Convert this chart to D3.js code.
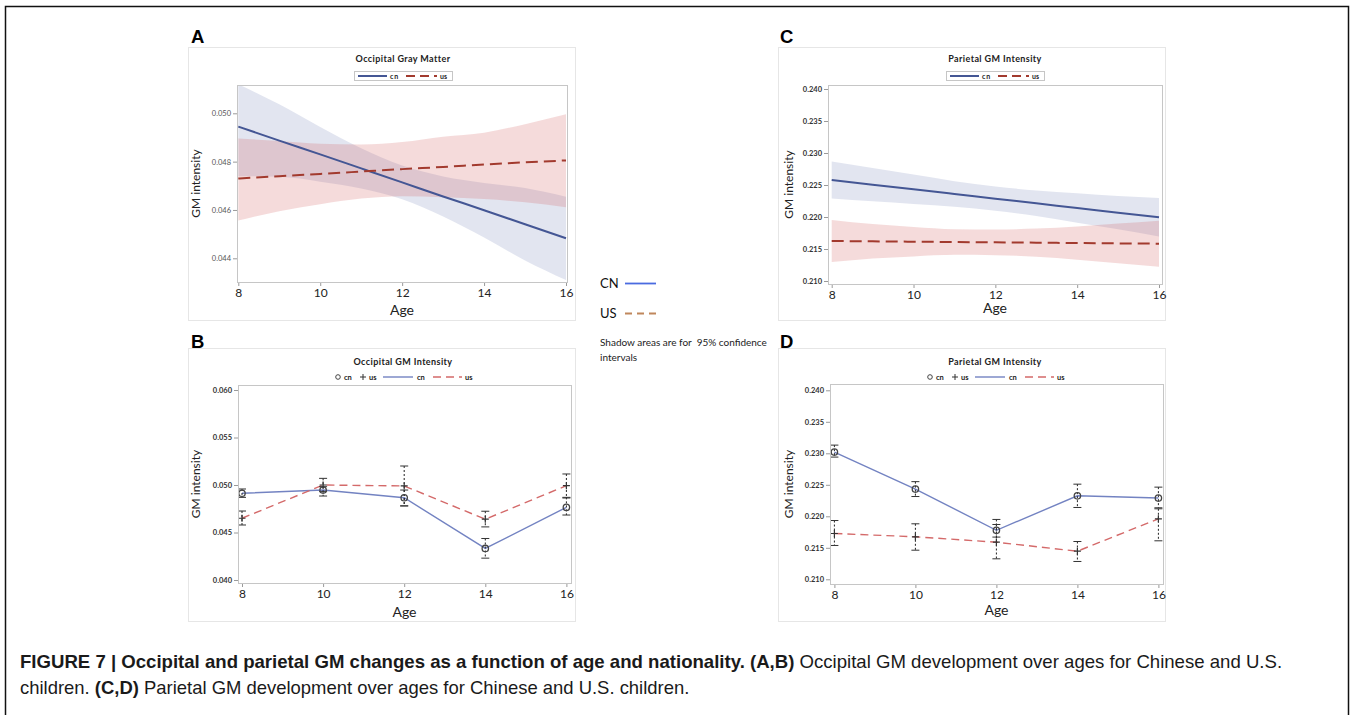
<!DOCTYPE html>
<html><head><meta charset="utf-8">
<script src="https://cdn.jsdelivr.net/npm/d3@7"></script>
<style>body{margin:0;background:#fff}svg{display:block}</style>
</head><body>
<svg id="c" width="1354" height="715"></svg>
<script>
// ---------- DATA ----------
const xTicks = [8, 10, 12, 14, 16];
const fitAges = [8, 9, 10, 11, 12, 13, 14, 15, 16];
const ages = [8, 10, 12, 14, 16];
const yTicksA = [0.044, 0.046, 0.048, 0.050];
const yTicksB = [0.040, 0.045, 0.050, 0.055, 0.060];
const yTicksCD = [0.210, 0.215, 0.220, 0.225, 0.230, 0.235, 0.240];

// Panel A: Occipital Gray Matter (fit + 95% CI)
const cnA   = [0.04945, 0.04887, 0.04830, 0.04772, 0.04714, 0.04656, 0.04599, 0.04541, 0.04483];
const cnAlo = [0.04740, 0.04737, 0.04717, 0.04689, 0.04644, 0.04573, 0.04486, 0.04391, 0.04310];
const cnAhi = [0.05120, 0.05037, 0.04943, 0.04855, 0.04784, 0.04739, 0.04712, 0.04691, 0.04655];
const usA   = [0.04730, 0.04740, 0.04749, 0.04759, 0.04769, 0.04778, 0.04788, 0.04797, 0.04805];
const usAlo = [0.04556, 0.04595, 0.04624, 0.04647, 0.04657, 0.04653, 0.04645, 0.04632, 0.04611];
const usAhi = [0.04896, 0.04885, 0.04874, 0.04871, 0.04881, 0.04903, 0.04920, 0.04955, 0.04996];

// Panel C: Parietal GM Intensity (fit + 95% CI)
const cnC   = [0.22578, 0.22505, 0.22433, 0.22360, 0.22287, 0.22214, 0.22141, 0.22068, 0.21995];
const cnClo = [0.22288, 0.22245, 0.22203, 0.22160, 0.22097, 0.22014, 0.21911, 0.21808, 0.21695];
const cnChi = [0.22868, 0.22765, 0.22663, 0.22560, 0.22477, 0.22414, 0.22371, 0.22328, 0.22295];
const usC   = [0.21625, 0.21620, 0.21614, 0.21609, 0.21604, 0.21599, 0.21593, 0.21588, 0.21583];
const usClo = [0.21295, 0.21350, 0.21384, 0.21409, 0.21404, 0.21379, 0.21333, 0.21278, 0.21223];
const usChi = [0.21955, 0.21890, 0.21844, 0.21809, 0.21804, 0.21819, 0.21853, 0.21898, 0.21943];

// Panel B: Occipital GM Intensity (means + error bars)
const cnB   = [0.04913, 0.04947, 0.04866, 0.04332, 0.04765];
const cnBlo = [0.04870, 0.04884, 0.04780, 0.04230, 0.04684];
const cnBhi = [0.04958, 0.04982, 0.04947, 0.04437, 0.04870];
const usB   = [0.04650, 0.05000, 0.04990, 0.04640, 0.04993];
const usBlo = [0.04579, 0.04930, 0.04780, 0.04559, 0.04863];
const usBhi = [0.04726, 0.05070, 0.05200, 0.04724, 0.05116];

// Panel D: Parietal GM Intensity (means + error bars)
const cnD   = [0.23020, 0.22432, 0.21778, 0.22325, 0.22290];
const cnDlo = [0.22940, 0.22314, 0.21670, 0.22140, 0.22135];
const cnDhi = [0.23130, 0.22550, 0.21950, 0.22510, 0.22463];
const usD   = [0.21727, 0.21675, 0.21589, 0.21446, 0.21960];
const usDlo = [0.21537, 0.21462, 0.21325, 0.21283, 0.21611];
const usDhi = [0.21933, 0.21881, 0.21870, 0.21600, 0.22119];

// ---------- DRAWING ----------
const F = "Lato, 'Open Sans', sans-serif";
const svg = d3.select('#c');
svg.append('rect').attr('x', 5.5).attr('y', 6.5).attr('width', 1343).attr('height', 730)
  .attr('fill', 'none').attr('stroke', '#111').attr('stroke-width', 1.5);

function panel(p) {
  const g = svg.append('g');
  g.append('rect').attr('x', p.frame[0] + .5).attr('y', p.frame[1] + .5)
    .attr('width', p.frame[2] - p.frame[0]).attr('height', p.frame[3] - p.frame[1])
    .attr('fill', '#fff').attr('stroke', '#e6e6e6');
  g.append('text').text(p.letter).attr('x', p.lx).attr('y', p.ly)
    .attr('font-family', 'Liberation Sans, Arial, sans-serif').attr('font-weight', 'bold').attr('font-size', 18.5);
  const [px0, py0, px1, py1] = p.plot;
  const x = d3.scaleLinear().domain([8, 16]).range(p.xr);
  const y = d3.scaleLinear().domain(p.yd).range(p.yr);
  const cid = 'clip' + p.letter;
  g.append('clipPath').attr('id', cid).append('rect')
    .attr('x', px0).attr('y', py0).attr('width', px1 - px0).attr('height', py1 - py0);
  const inner = g.append('g').attr('clip-path', `url(#${cid})`);

  const xa = g.append('g').attr('transform', `translate(0,${py1})`)
    .call(d3.axisBottom(x).tickValues(xTicks).tickSize(4).tickPadding(2).tickFormat(d3.format('d')));
  xa.select('.domain').remove();
  xa.selectAll('line').attr('stroke', '#9a9a9a');
  xa.selectAll('text').attr('font-family', F).attr('font-size', 12).attr('fill', '#222');
  const ya = g.append('g').attr('transform', `translate(${px0},0)`)
    .call(d3.axisLeft(y).tickValues(p.yt).tickSize(4).tickPadding(2).tickFormat(d3.format('.3f')));
  ya.select('.domain').remove();
  ya.selectAll('line').attr('stroke', '#9a9a9a');
  ya.selectAll('text').attr('font-family', F).attr('font-size', 7.5)
    .attr('font-weight', p.boldTicks ? 'bold' : 'normal').attr('fill', p.boldTicks ? '#333' : '#555');

  g.append('rect').attr('x', px0 + .5).attr('y', py0 + .5).attr('width', px1 - px0).attr('height', py1 - py0)
    .attr('fill', 'none').attr('stroke', '#c6c6c6');

  g.append('text').text(p.title).attr('x', p.tx).attr('y', p.ty).attr('text-anchor', 'middle')
    .attr('font-family', F).attr('font-weight', 'bold').attr('font-size', 9).attr('letter-spacing', 0.4).attr('fill', '#222');
  g.append('text').text('Age').attr('x', (px0 + px1) / 2).attr('y', p.agey).attr('text-anchor', 'middle')
    .attr('font-family', F).attr('font-size', 14).attr('fill', '#222');
  g.append('text').text('GM intensity')
    .attr('transform', `translate(${p.ylx},${(py0 + py1) / 2}) rotate(-90)`).attr('text-anchor', 'middle')
    .attr('font-family', F).attr('font-size', 12).attr('fill', '#222');
  return { g, inner, x, y };
}

const BLUE = '#445694', RED = '#A23A2E';
const BLUEF = '#6F7EB3', REDF = '#D05B5B';

function fitPanel(P, cn, cnlo, cnhi, us, uslo, ushi, leg) {
  const { g, inner, x, y } = P;
  const area = d3.area().curve(d3.curveMonotoneX).x(d => x(d[0])).y0(d => y(d[1])).y1(d => y(d[2]));
  const line = d3.line().curve(d3.curveMonotoneX).x(d => x(d[0])).y(d => y(d[1]));
  inner.append('path').datum(fitAges.map((a, i) => [a, cnlo[i], cnhi[i]])).attr('d', area)
    .attr('fill', BLUEF).attr('fill-opacity', 0.2);
  inner.append('path').datum(fitAges.map((a, i) => [a, uslo[i], ushi[i]])).attr('d', area)
    .attr('fill', REDF).attr('fill-opacity', 0.22);
  inner.append('path').datum(fitAges.map((a, i) => [a, cn[i]])).attr('d', line)
    .attr('fill', 'none').attr('stroke', BLUE).attr('stroke-width', 2);
  inner.append('path').datum(fitAges.map((a, i) => [a, us[i]])).attr('d', line)
    .attr('fill', 'none').attr('stroke', RED).attr('stroke-width', 2).attr('stroke-dasharray', '12,6');
  // legend box
  const lg = g.append('g');
  lg.append('rect').attr('x', leg.x0 + .5).attr('y', 71.5).attr('width', 98).attr('height', 9)
    .attr('fill', '#fff').attr('stroke', '#c6c6c6');
  lg.append('line').attr('x1', leg.x0 + 4).attr('x2', leg.x0 + 33).attr('y1', 76).attr('y2', 76)
    .attr('stroke', BLUE).attr('stroke-width', 2);
  lg.append('text').text('cn').attr('x', leg.x0 + 36).attr('y', 78.5).attr('font-family', F)
    .attr('font-size', 7).attr('font-weight', 'bold').attr('letter-spacing', 1).attr('fill', '#222');
  lg.append('line').attr('x1', leg.x0 + 52).attr('x2', leg.x0 + 83).attr('y1', 76).attr('y2', 76)
    .attr('stroke', RED).attr('stroke-width', 2).attr('stroke-dasharray', '9,5');
  lg.append('text').text('us').attr('x', leg.x0 + 86).attr('y', 78.5).attr('font-family', F)
    .attr('font-size', 7).attr('font-weight', 'bold').attr('fill', '#222');
}

const BL2 = '#7383c2', RD2 = '#d46a6a';
function meanPanel(P, cn, cnlo, cnhi, us, uslo, ushi, leg) {
  const { g, inner, x, y } = P;
  const line = d3.line().x(d => x(d[0])).y(d => y(d[1]));
  inner.append('path').datum(ages.map((a, i) => [a, cn[i]])).attr('d', line)
    .attr('fill', 'none').attr('stroke', BL2).attr('stroke-width', 1.4);
  inner.append('path').datum(ages.map((a, i) => [a, us[i]])).attr('d', line)
    .attr('fill', 'none').attr('stroke', RD2).attr('stroke-width', 1.4).attr('stroke-dasharray', '8,5');
  function bars(lo, hi) {
    ages.forEach((a, i) => {
      const cx = x(a);
      inner.append('line').attr('x1', cx).attr('x2', cx).attr('y1', y(hi[i])).attr('y2', y(lo[i]))
        .attr('stroke', '#222').attr('stroke-width', 1).attr('stroke-dasharray', '2,2');
      [hi[i], lo[i]].forEach(v => inner.append('line').attr('x1', cx - 4).attr('x2', cx + 4)
        .attr('y1', y(v)).attr('y2', y(v)).attr('stroke', '#333').attr('stroke-width', 1));
    });
  }
  bars(cnlo, cnhi); bars(uslo, ushi);
  ages.forEach((a, i) => {
    inner.append('circle').attr('cx', x(a)).attr('cy', y(cn[i])).attr('r', 3.2)
      .attr('fill', 'none').attr('stroke', '#444').attr('stroke-width', 1.3);
    const px = x(a), py = y(us[i]);
    inner.append('path').attr('d', `M${px - 3.5},${py}H${px + 3.5}M${px},${py - 3.5}V${py + 3.5}`)
      .attr('stroke', '#333').attr('stroke-width', 1.2);
  });
  const lg = g.append('g');
  const ly = 377;
  lg.append('circle').attr('cx', leg.x0).attr('cy', ly).attr('r', 2.3).attr('fill', 'none').attr('stroke', '#444');
  const t = (s, xx) => lg.append('text').text(s).attr('x', xx).attr('y', ly + 2.5).attr('font-family', F)
    .attr('font-size', 7.5).attr('font-weight', 'bold').attr('fill', '#222');
  t('cn', leg.x0 + 6);
  lg.append('path').attr('d', `M${leg.x0 + 22},${ly}H${leg.x0 + 28}M${leg.x0 + 25},${ly - 3}V${ly + 3}`)
    .attr('stroke', '#333').attr('stroke-width', 1);
  t('us', leg.x0 + 31);
  lg.append('line').attr('x1', leg.x0 + 45).attr('x2', leg.x0 + 75).attr('y1', ly).attr('y2', ly)
    .attr('stroke', BL2).attr('stroke-width', 1.4);
  t('cn', leg.x0 + 79);
  lg.append('line').attr('x1', leg.x0 + 95).attr('x2', leg.x0 + 124).attr('y1', ly).attr('y2', ly)
    .attr('stroke', RD2).attr('stroke-width', 1.4).attr('stroke-dasharray', '8,5');
  t('us', leg.x0 + 127);
}

const pA = panel({ letter: 'A', lx: 191, ly: 43, frame: [188, 47, 575, 320], plot: [237, 85, 567, 282],
  xr: [238.3, 566], yd: [0.044, 0.050], yr: [258.3, 113.3], yt: yTicksA, boldTicks: false,
  title: 'Occipital Gray Matter', tx: 403, ty: 62, agey: 315, ylx: 200 });
fitPanel(pA, cnA, cnAlo, cnAhi, usA, usAlo, usAhi, { x0: 354 });

const pC = panel({ letter: 'C', lx: 780, ly: 43, frame: [778, 47, 1165, 320], plot: [828, 85, 1162, 284],
  xr: [831.7, 1159], yd: [0.210, 0.240], yr: [281, 89], yt: yTicksCD, boldTicks: true,
  title: 'Parietal GM Intensity', tx: 995, ty: 62, agey: 313, ylx: 793 });
fitPanel(pC, cnC, cnClo, cnChi, usC, usClo, usChi, { x0: 946 });

const pB = panel({ letter: 'B', lx: 191, ly: 348, frame: [188, 348, 575, 621], plot: [238, 385, 571, 583],
  xr: [242, 566.4], yd: [0.040, 0.060], yr: [580, 390], yt: yTicksB, boldTicks: true,
  title: 'Occipital GM Intensity', tx: 403, ty: 365, agey: 617, ylx: 200 });
meanPanel(pB, cnB, cnBlo, cnBhi, usB, usBlo, usBhi, { x0: 338 });

const pD = panel({ letter: 'D', lx: 780, ly: 348, frame: [778, 348, 1165, 621], plot: [830, 384, 1163, 584],
  xr: [834.4, 1158.4], yd: [0.210, 0.240], yr: [579.3, 390.3], yt: yTicksCD, boldTicks: true,
  title: 'Parietal GM Intensity', tx: 995, ty: 365, agey: 615, ylx: 793 });
meanPanel(pD, cnD, cnDlo, cnDhi, usD, usDlo, usDhi, { x0: 930 });

// middle legend
const ml = svg.append('g');
ml.append('text').text('CN').attr('x', 600).attr('y', 288).attr('font-family', F).attr('font-size', 13).attr('fill', '#111');
ml.append('line').attr('x1', 625).attr('x2', 656).attr('y1', 283.5).attr('y2', 283.5).attr('stroke', '#4a6be0').attr('stroke-width', 1.8);
ml.append('text').text('US').attr('x', 600).attr('y', 318).attr('font-family', F).attr('font-size', 13).attr('fill', '#111');
ml.append('line').attr('x1', 625).attr('x2', 657).attr('y1', 313.5).attr('y2', 313.5).attr('stroke', '#c0875c')
  .attr('stroke-width', 1.8).attr('stroke-dasharray', '7,5');
ml.append('text').text('Shadow areas are for  95% confidence').attr('x', 600).attr('y', 345.5)
  .attr('font-family', F).attr('font-size', 10).attr('fill', '#222').style('white-space', 'pre');
ml.append('text').text('intervals').attr('x', 600).attr('y', 360.5).attr('font-family', F).attr('font-size', 10).attr('fill', '#222');

// caption
const CF = "'Liberation Sans Narrow', 'Liberation Sans', Arial, sans-serif";
function captionLine(parts, yy, targetW) {
  const t = svg.append('text').attr('x', 0).attr('y', 0).attr('font-family', CF).attr('font-size', 17.5).attr('fill', '#1a1a1a');
  parts.forEach(([s, b]) => t.append('tspan').text(s).attr('font-weight', b ? 'bold' : 'normal').style('white-space', 'pre'));
  const w = t.node().getBBox().width;
  t.attr('transform', `translate(20,${yy}) scale(${targetW / w},1)`);
}
captionLine([['FIGURE 7 | Occipital and parietal GM changes as a function of age and nationality. (A,B)', true],
  [' Occipital GM development over ages for Chinese and U.S.', false]], 668, 1263);
captionLine([['children. ', false], ['(C,D)', true],
  [' Parietal GM development over ages for Chinese and U.S. children.', false]], 694, 670);
</script>
</body></html>
